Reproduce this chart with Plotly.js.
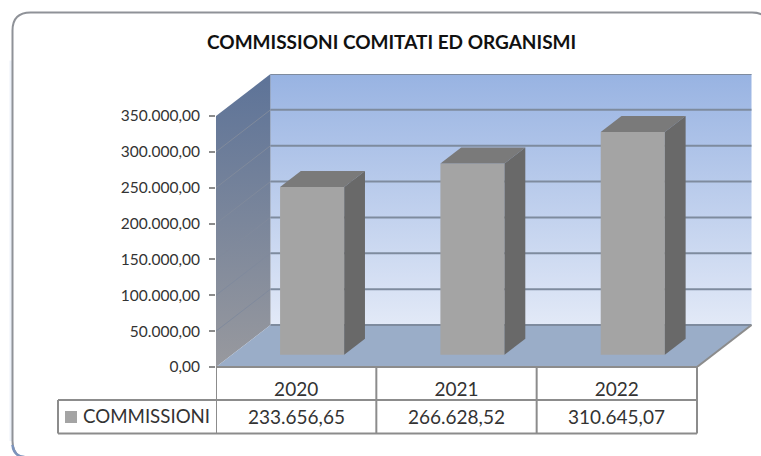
<!DOCTYPE html>
<html><head><meta charset="utf-8">
<script src="https://cdn.plot.ly/plotly-3.0.1.min.js"></script>
<style>html,body{margin:0;padding:0;background:#fff;overflow:hidden}</style>
</head><body><div id="chart" style="width:761px;height:456px"></div>
<script>
const categories = ['2020','2021','2022'];
const seriesName = 'COMMISSIONI';
const values = [233656.65, 266628.52, 310645.07];
const yTicks = [0,50000,100000,150000,200000,250000,300000,350000];
const chartTitle = 'COMMISSIONI COMITATI ED ORGANISMI';

const W=761,H=456,L=216,R=8,T=74,B=89;
const FONT='Lato, "Open Sans", sans-serif';
const depthX=0.34, depthY=58560, barW=0.4, barFront=0.293, barBack=0.674;
const yMax=(H-B-T)/35.86*50000, xMax=(W-R-L)/160.33, yTop=350000;
const fmt=v=>{const [a,b]=v.toFixed(2).split('.');return a.replace(/\B(?=(\d{3})+$)/g,'.')+','+b;};
const px=p=>(p-L)/(W-L-R), py=p=>(H-B-p)/(H-B-T);
const GRAY='#8c8c8c';

const poly=(xs,ys,extra,ax)=>Object.assign({type:'scatter',mode:'lines',x:xs.concat(xs[0]),y:ys.concat(ys[0]),fill:'toself',line:{width:0},hoverinfo:'skip',showlegend:false,cliponaxis:false},ax?{xaxis:'x2',yaxis:'y2'}:{},extra);

const traces=[];
// back wall
traces.push(poly([depthX,3+depthX,3+depthX,depthX],[depthY,depthY,depthY+yTop,depthY+yTop],{fillcolor:'#bccdec',
  fillgradient:{type:'vertical',start:depthY+yTop,stop:depthY,colorscale:[[0,'#98b3e2'],[1,'#e2e9f7']]}}));
// side wall
traces.push(poly([0,depthX,depthX,0],[0,depthY,depthY+yTop,yTop],{fillcolor:'#7d8aa0',
  fillgradient:{type:'vertical',start:depthY+yTop,stop:0,colorscale:[[0,'#5d7398'],[1,'#98999e']]}}));
// floor
traces.push(poly([0,depthX,3+depthX,3],[0,depthY,depthY,0],{fillcolor:'#9aadc8'}));
// gridlines back + side
const gx=[],gy=[],sx=[],sy=[];
yTicks.forEach(t=>{gx.push(depthX,3+depthX,null);gy.push(depthY+t,depthY+t,null);
  if(t>0&&t<yTop){sx.push(0,depthX,null);sy.push(t,depthY+t,null);}});
traces.push({type:'scatter',mode:'lines',x:gx,y:gy,line:{color:'#7e8b9e',width:2},hoverinfo:'skip',showlegend:false,cliponaxis:false});
traces.push({type:'scatter',mode:'lines',x:sx,y:sy,line:{color:'#808a9c',width:1},hoverinfo:'skip',showlegend:false,cliponaxis:false});
// floor right edge
traces.push({type:'scatter',mode:'lines',x:[3,3+depthX],y:[0,depthY],line:{color:GRAY,width:2},hoverinfo:'skip',showlegend:false,cliponaxis:false});
// bars front faces
traces.push({type:'bar',name:seriesName,xaxis:'x2',yaxis:'y2',
  x:categories.map((c,i)=>i+0.5+barFront*depthX),
  y:values,base:values.map(()=>barFront*depthY),width:barW,
  marker:{color:'#a4a4a4',line:{width:0}},showlegend:false,
  text:values.map(fmt),hoverinfo:'text',textposition:'none'});
values.forEach((v,i)=>{
  const x0=i+0.5-barW/2, x1=i+0.5+barW/2;
  const fx=barFront*depthX, bx=barBack*depthX, fy=barFront*depthY, by=barBack*depthY;
  traces.push(poly([x0+fx,x1+fx,x1+bx,x0+bx],[v+fy,v+fy,v+by,v+by],{fillcolor:'#7a7a7a'},true));
  traces.push(poly([x1+fx,x1+bx,x1+bx,x1+fx],[fy,by,v+by,v+fy],{fillcolor:'#696969'},true));
});

const line=(x0,y0,x1,y1,xr,c,w)=>({type:'line',xref:xr,yref:'paper',x0,x1,y0,y1,line:{color:c||GRAY,width:w||2},layer:'above'});
const shapes=[];
// frame
const fL=12.5,fT=12.5,fR=770,fB=459,r=18;
const framePath=`M ${px(fL)} ${py(fT+r)} Q ${px(fL)} ${py(fT)} ${px(fL+r)} ${py(fT)} L ${px(fR-r)} ${py(fT)} Q ${px(fR)} ${py(fT)} ${px(fR)} ${py(fT+r)} L ${px(fR)} ${py(fB-r)} Q ${px(fR)} ${py(fB)} ${px(fR-r)} ${py(fB)} L ${px(fL+r)} ${py(fB)} Q ${px(fL)} ${py(fB)} ${px(fL)} ${py(fB-r)} Z`;
shapes.push({type:'path',xref:'paper',yref:'paper',layer:'below',line:{color:'#edf2fa',width:4},path:`M ${px(fL-1)} ${py(fT+r+30)} L ${px(fL-1)} ${py(fB-r)}`});
shapes.push({type:'path',xref:'paper',yref:'paper',layer:'below',fillcolor:'#ffffff',line:{color:'#8f9298',width:2},path:framePath});
shapes.push({type:'path',xref:'paper',yref:'paper',layer:'below',line:{color:'#7c94bd',width:2.5},
  path:`M ${px(fL)} ${py(fB-r+4)} Q ${px(fL+1)} ${py(fB-3)} ${px(fL+12)} ${py(fB-2)}`});
// table
const r0=367,r1=400,r2=433.5,tL=58;
shapes.push(line(0,py(r0),3,py(r0),'x'));
shapes.push(line(px(tL),py(r1),3/xMax,py(r1),'paper'));
shapes.push(line(px(tL),py(r2),3/xMax,py(r2),'paper'));
shapes.push(line(px(tL),py(r1),px(tL),py(r2),'paper'));
[0,1,2,3].forEach(i=>shapes.push(line(i,py(r0),i,py(r2),'x')));
shapes.push({type:'rect',xref:'paper',yref:'paper',x0:px(65),x1:px(77),y0:py(411),y1:py(423),fillcolor:'#a4a4a4',line:{width:0},layer:'above'});

const annotations=[];
annotations.push({xref:'paper',yref:'paper',x:px(391.5),y:py(42),text:'<b>'+chartTitle+'</b>',showarrow:false,xanchor:'center',yanchor:'middle',font:{family:FONT,size:19,color:'#111'}});
annotations.push({xref:'paper',yref:'paper',x:px(83),y:py(416),text:seriesName,showarrow:false,xanchor:'left',yanchor:'middle',xshift:-2,font:{family:FONT,size:18.7,color:'#333'}});
values.forEach((v,i)=>annotations.push({xref:'x',yref:'paper',x:i+0.5,y:py(416),text:fmt(v),showarrow:false,xanchor:'center',yanchor:'middle',font:{family:FONT,size:19,color:'#333'}}));

const layout={width:W,height:H,margin:{l:L,r:R,t:T,b:B,pad:0},paper_bgcolor:'#ffffff',plot_bgcolor:'rgba(0,0,0,0)',
 showlegend:false,barmode:'overlay',
 xaxis:{range:[0,xMax],tickmode:'array',tickvals:categories.map((c,i)=>i+0.5),ticktext:categories,ticks:'',showgrid:false,zeroline:false,showline:false,
   tickfont:{family:FONT,size:19,color:'#333'},ticklabelstandoff:9,fixedrange:true},
 yaxis:{range:[0,yMax],tickmode:'array',tickvals:yTicks,ticktext:yTicks.map(fmt),ticks:'outside',ticklen:6,tickwidth:2,tickcolor:GRAY,showgrid:false,zeroline:false,showline:false,
   tickfont:{family:FONT,size:15.5,color:'#333'},ticklabelstandoff:6,fixedrange:true},
 xaxis2:{range:[0,xMax],overlaying:'x',visible:false,fixedrange:true},
 yaxis2:{range:[0,yMax],overlaying:'y',visible:false,fixedrange:true},
 shapes,annotations};
Plotly.newPlot('chart',traces,layout,{displayModeBar:false,staticPlot:false});
</script></body></html>
